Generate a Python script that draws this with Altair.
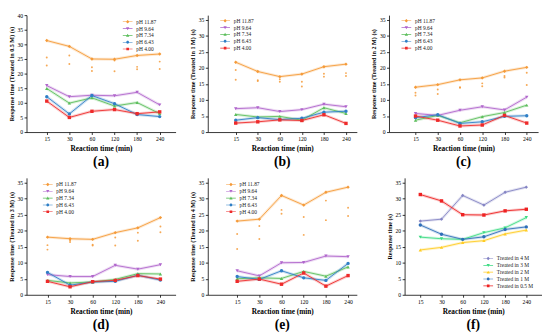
import altair as alt
import pandas as pd

X_LABELS = ["15", "30", "60", "120", "180", "240"]

PH_SERIES = ["pH 11.87", "pH 9.64", "pH 7.34", "pH 6.43", "pH 4.00"]
PH_COLORS = ["#F59A38", "#B066CC", "#5CBE5C", "#2F7FC6", "#EE2A2A"]
PH_SHAPES = ["diamond", "triangle-down", "triangle-up", "circle", "square"]

F_SERIES = ["Treated in 4 M", "Treated in 3 M", "Treated in 2 M", "Treated in 1 M", "Treated in 0.5 M"]
F_COLORS = ["#8484C4", "#3DDB82", "#FFCC22", "#2E6EB8", "#EE2222"]
F_SHAPES = ["diamond", "triangle-down", "triangle-up", "circle", "square"]

# (a) treated in 0.5 M
a_ph1187 = [31.3, 29.3, 25.0, 24.9, 26.2, 26.7]
a_ph964 = [15.9, 12.1, 12.6, 12.4, 13.6, 9.3]
a_ph734 = [14.9, 9.9, 11.7, 8.9, 10.1, 6.3]
a_ph643 = [12.1, 6.2, 12.5, 9.7, 6.0, 5.3]
a_ph400 = [10.6, 5.0, 7.1, 7.7, 6.3, 6.9]
a_rep_hi = [25.5, 26.2, 22.2, 24.5, 22.3, 24.1]
a_rep_lo = [22.8, 23.3, 20.9, 20.8, 21.5, 21.6]

# (b) treated in 1 M
b_ph1187 = [21.8, 18.9, 17.3, 18.1, 20.4, 21.2]
b_ph964 = [7.3, 7.6, 6.4, 7.0, 8.7, 7.9]
b_ph734 = [5.5, 4.7, 4.9, 3.7, 7.6, 5.8]
b_ph643 = [3.7, 4.5, 3.9, 4.3, 6.2, 6.5]
b_ph400 = [2.8, 3.2, 3.8, 3.6, 5.4, 2.7]
b_rep_hi = [19.4, 16.2, 16.5, 15.7, 18.2, 18.4]
b_rep_lo = [16.3, 15.9, 15.7, 14.2, 17.3, 17.5]

# (c) treated in 2 M
c_ph1187 = [14.0, 14.8, 16.3, 16.9, 19.0, 20.2]
c_ph964 = [5.8, 5.2, 6.8, 7.9, 6.9, 10.9]
c_ph734 = [3.7, 5.2, 2.9, 4.8, 6.1, 8.4]
c_ph643 = [4.5, 5.4, 2.7, 3.2, 4.9, 5.1]
c_ph400 = [5.0, 3.7, 1.9, 2.2, 5.2, 2.8]
c_rep_hi = [12.3, 13.3, 14.0, 15.2, 17.5, 18.5]
c_rep_lo = [11.4, 11.9, 13.8, 14.3, 17.0, 14.7]

# (d) treated in 3 M
d_ph1187 = [18.0, 17.5, 17.3, 19.4, 20.9, 24.1]
d_ph964 = [6.3, 5.7, 5.7, 9.2, 8.0, 9.4]
d_ph734 = [4.5, 3.7, 4.0, 4.8, 6.6, 6.5]
d_ph643 = [7.0, 3.0, 4.0, 4.2, 6.1, 4.6]
d_ph400 = [4.2, 2.5, 4.1, 4.5, 6.0, 4.9]
d_rep_hi = [15.5, 17.0, 15.6, 17.9, 19.4, 21.3]
d_rep_lo = [14.1, 16.5, 15.4, 15.4, 16.9, 19.5]

# (e) treated in 4 M
e_ph1187 = [23.0, 23.6, 31.0, 28.0, 32.0, 33.6]
e_ph964 = [7.5, 5.9, 10.0, 10.1, 12.1, 11.9]
e_ph734 = [5.0, 5.3, 5.1, 7.3, 5.8, 8.7]
e_ph643 = [5.7, 4.8, 7.5, 5.3, 4.5, 9.8]
e_ph400 = [4.2, 4.9, 3.3, 6.8, 2.7, 6.0]
e_rep_hi = [19.0, 21.5, 26.5, 24.3, 29.4, 27.2]
e_rep_lo = [14.3, 17.4, 25.3, 18.7, 23.3, 24.6]

# (f) pH 11.87 in every concentration
f_4m = [23.0, 23.6, 31.0, 28.0, 32.0, 33.6]
f_3m = [18.0, 17.5, 17.3, 19.4, 20.9, 24.1]
f_2m = [14.0, 14.8, 16.3, 16.9, 19.0, 20.2]
f_1m = [21.8, 18.9, 17.3, 18.1, 20.4, 21.2]
f_05m = [31.3, 29.3, 25.0, 24.9, 26.2, 26.7]

FONT = "Liberation Serif"

MARKER_PATHS = {
    "circle": "M-0.6,0A0.6,0.6 0 1,1 0.6,0A0.6,0.6 0 1,1 -0.6,0Z",
    "triangle-down": "M-0.68,-0.52L0.68,-0.52L0,0.64Z",
    "triangle-up": "M0.68,0.52L-0.68,0.52L0,-0.64Z",
    "diamond": "M0,-0.72L0.72,0L0,0.72L-0.72,0Z",
    "square": "M-0.54,-0.54H0.54V0.54H-0.54Z",
}
LINE_PATH = "M-2,-0.13H2V0.13H-2Z"


def panel(names, colors, shapes, series_vals, rep_hi, rep_lo, ytitle, caption,
          ydomain, yticks, width, pad, align, lx, ly):
    rows = []
    for n, vals in zip(names, series_vals):
        for x, v in zip(X_LABELS, vals):
            rows.append({"x": x, "series": n, "value": v})
    df = pd.DataFrame(rows)

    reps = []
    if rep_hi is not None:
        for x, v in zip(X_LABELS, rep_hi):
            reps.append({"x": x, "series": names[0], "value": v})
        for x, v in zip(X_LABELS, rep_lo):
            reps.append({"x": x, "series": names[0], "value": v})
    rdf = pd.DataFrame(reps, columns=["x", "series", "value"])

    xenc = alt.X("x:O", sort=X_LABELS,
                 scale=alt.Scale(type="point", padding=pad, align=align),
                 axis=alt.Axis(title="Reaction time (min)", labelAngle=0, titleFontSize=7.5))
    yenc = alt.Y("value:Q", scale=alt.Scale(domain=ydomain, nice=False, zero=True),
                 axis=alt.Axis(title=ytitle, values=yticks, titleFontSize=6.3))
    cscale = alt.Scale(domain=names, range=colors)
    legend_paths = [LINE_PATH + " " + MARKER_PATHS[s] for s in shapes]
    sscale = alt.Scale(domain=names, range=legend_paths)

    leg = alt.Legend(title=None, orient="none", legendX=lx, legendY=ly,
                     symbolOpacity=1, symbolSize=25, symbolStrokeWidth=0)
    cenc = alt.Color("series:N", scale=cscale, legend=leg, sort=names)

    halo = alt.Chart(df).mark_line(strokeWidth=3, opacity=0.22).encode(
        x=xenc, y=yenc, color=cenc, detail="series:N")
    line = alt.Chart(df).mark_line(strokeWidth=0.9).encode(
        x=xenc, y=yenc, color=cenc, detail="series:N")
    layers = [halo, line]
    if len(rdf):
        rep = alt.Chart(rdf).mark_point(filled=True, size=4, opacity=0.85).encode(
            x=xenc, y=yenc, color=cenc)
        layers.append(rep)
    for n, shp in zip(names, shapes):
        sub = df[df["series"] == n]
        layers.append(alt.Chart(sub).mark_point(filled=True, size=12, opacity=1, shape=shp).encode(
            x=xenc, y=yenc, color=cenc))
    legend_layer = alt.Chart(df).mark_point(filled=True, size=25, opacity=0).encode(
        x=xenc, y=yenc, color=cenc,
        shape=alt.Shape("series:N", scale=sscale, legend=leg, sort=names))
    layers.append(legend_layer)

    return alt.layer(*layers).properties(
        width=width, height=120,
        title=alt.TitleParams(caption, orient="bottom", fontSize=14, font=FONT,
                              fontWeight="bold", anchor="middle", frame="group", offset=4),
    )


def res(ch):
    return ch.resolve_scale(x="independent", y="independent", color="independent",
                            shape="independent").resolve_legend(color="independent",
                                                                shape="independent")


T35 = [0, 5, 10, 15, 20, 25, 30, 35]
T40 = [0, 5, 10, 15, 20, 25, 30, 35, 40]

pa = panel(PH_SERIES, PH_COLORS, PH_SHAPES, [a_ph1187, a_ph964, a_ph734, a_ph643, a_ph400],
           a_rep_hi, a_rep_lo, "Response time (Treated in 0.5 M) (s)", "(a)",
           [0, 40], T40, 153, 0.8, 0.56, 101, 4)
pb = panel(PH_SERIES, PH_COLORS, PH_SHAPES, [b_ph1187, b_ph964, b_ph734, b_ph643, b_ph400],
           b_rep_hi, b_rep_lo, "Response time (Treated in 1 M) (s)", "(b)",
           [0, 36.5], T35, 153, 0.88, 0.72, 15, 3)
pc = panel(PH_SERIES, PH_COLORS, PH_SHAPES, [c_ph1187, c_ph964, c_ph734, c_ph643, c_ph400],
           c_rep_hi, c_rep_lo, "Response time (Treated in 2 M) (s)", "(c)",
           [0, 36.5], T35, 153, 0.85, 0.7, 15, 3)
pd_ = panel(PH_SERIES, PH_COLORS, PH_SHAPES, [d_ph1187, d_ph964, d_ph734, d_ph643, d_ph400],
            d_rep_hi, d_rep_lo, "Response time (Treated in 3 M) (s)", "(d)",
            [0, 36.5], T35, 153, 0.8, 0.58, 19, 4)
pe = panel(PH_SERIES, PH_COLORS, PH_SHAPES, [e_ph1187, e_ph964, e_ph734, e_ph643, e_ph400],
           e_rep_hi, e_rep_lo, "Response time (Treated in 4 M) (s)", "(e)",
           [0, 36.5], T35, 153, 0.86, 0.77, 21, 4)
pf = panel(F_SERIES, F_COLORS, F_SHAPES, [f_4m, f_3m, f_2m, f_1m, f_05m],
           None, None, "Response time (s)", "(f)",
           [0, 36.5], T35, 141, 0.74, 0.5, 83, 80)

row1 = res(alt.hconcat(pa, pb, pc, spacing=14))
row2 = res(alt.hconcat(res(alt.hconcat(pd_, pe, spacing=14)), pf, spacing=30))
chart = res(alt.vconcat(row1, row2, spacing=8))

chart = chart.configure(background="white", padding=0).configure_view(stroke=None).configure_axis(
    labelFont=FONT, titleFont=FONT, labelFontSize=5.8, titleFontWeight="bold",
    domainColor="#000000", domainWidth=0.8, tickColor="#000000", tickWidth=0.8,
    tickSize=2.5, labelPadding=1.5, titlePadding=3, grid=False, labelColor="#000000",
    titleColor="#000000",
).configure_legend(
    labelFont=FONT, labelFontSize=5.6, labelColor="#222222",
    rowPadding=0, padding=0, labelOffset=6,
)

chart.save("out.html", embed_options={"renderer": "svg", "actions": False})
